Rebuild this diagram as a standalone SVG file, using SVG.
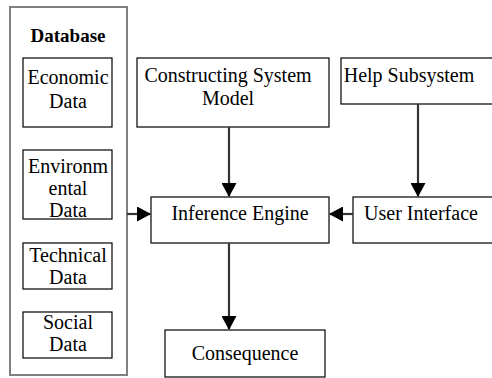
<svg xmlns="http://www.w3.org/2000/svg" width="492" height="378" viewBox="0 0 492 378">
<defs>
<style>
.box{fill:#fff;stroke:#000;stroke-width:1.2}
.db{fill:#fff;stroke:#808080;stroke-width:2}
text{font-family:"Liberation Serif","Times New Roman",serif;font-size:20px;fill:#000;text-anchor:middle}
.b{font-weight:bold;font-size:19px}
.c{stroke:#333;stroke-width:2.2;fill:none}
</style>
<marker id="ah" markerWidth="14" markerHeight="15" refX="13" refY="7.5" orient="auto" markerUnits="userSpaceOnUse">
<path d="M0,0 L14,7.5 L0,15 Z" fill="#000"/>
</marker>
</defs>
<rect width="492" height="378" fill="#fff"/>
<g id="database">
<rect class="db" x="10" y="7" width="117" height="368"/>
<text class="b" x="68" y="42">Database</text>
</g>
<g id="economic">
<rect class="box" x="23" y="58" width="89" height="69"/>
<text x="68" y="84">Economic</text>
<text x="68" y="108">Data</text>
</g>
<g id="environmental">
<rect class="box" x="23" y="150" width="89" height="69"/>
<text x="68" y="173">Environm</text>
<text x="68" y="195">ental</text>
<text x="68" y="217">Data</text>
</g>
<g id="technical">
<rect class="box" x="23" y="243" width="89" height="46"/>
<text x="68" y="262">Technical</text>
<text x="68" y="284">Data</text>
</g>
<g id="social">
<rect class="box" x="23" y="312" width="89" height="46"/>
<text x="68" y="329">Social</text>
<text x="68" y="351">Data</text>
</g>
<g id="constructing">
<rect class="box" x="137" y="58" width="192" height="69"/>
<text x="228" y="82">Constructing System</text>
<text x="228" y="105">Model</text>
</g>
<g id="help">
<rect class="box" x="341" y="58" width="160" height="46"/>
<text x="409" y="82">Help Subsystem</text>
</g>
<g id="inference">
<rect class="box" x="151" y="197" width="178" height="46"/>
<text x="240" y="220">Inference Engine</text>
</g>
<g id="ui">
<rect class="box" x="353" y="197" width="148" height="46"/>
<text x="421" y="220">User Interface</text>
</g>
<g id="consequence">
<rect class="box" x="165" y="330" width="160" height="47"/>
<text x="245" y="360">Consequence</text>
</g>
<g id="connectors">
<line class="c" x1="229" y1="127" x2="229" y2="196" marker-end="url(#ah)"/>
<line class="c" x1="418" y1="104" x2="418" y2="196" marker-end="url(#ah)"/>
<line class="c" x1="353" y1="214" x2="330" y2="214" marker-end="url(#ah)"/>
<line class="c" x1="127" y1="214" x2="150" y2="214" marker-end="url(#ah)"/>
<line class="c" x1="229" y1="243" x2="229" y2="329" marker-end="url(#ah)"/>
</g>
</svg>
